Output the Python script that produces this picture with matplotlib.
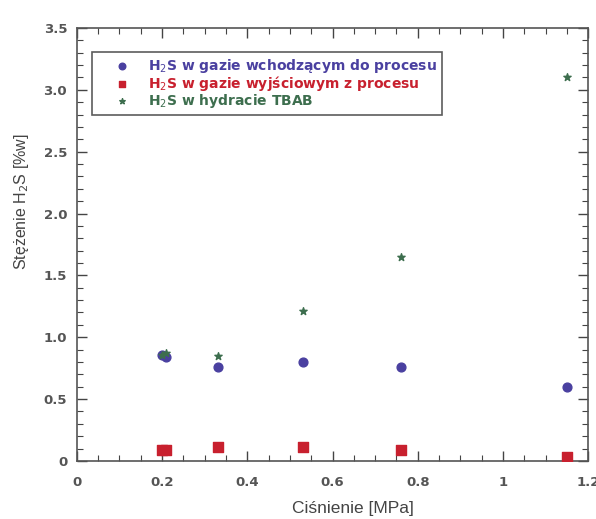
import matplotlib
matplotlib.use('Agg')
import matplotlib.pyplot as plt
from matplotlib.ticker import MultipleLocator, FixedFormatter, FixedLocator

plt.rcParams['font.family'] = ['Liberation Sans', 'DejaVu Sans']

# pressure [MPa]
pressure = [0.20, 0.21, 0.33, 0.53, 0.76, 1.15]

# H2S concentration [%w]
h2s_inlet = [0.86, 0.84, 0.76, 0.80, 0.76, 0.60]
h2s_outlet = [0.09, 0.09, 0.11, 0.11, 0.09, 0.03]
h2s_hydrate = [0.86, 0.87, 0.85, 1.21, 1.65, 3.10]

labels = ['H$_2$S w gazie wchodzącym do procesu',
          'H$_2$S w gazie wyjściowym z procesu',
          'H$_2$S w hydracie TBAB']
colors = ['#4a40a0', '#c8202e', '#3d6e4e']

x_ticks = [0, 0.2, 0.4, 0.6, 0.8, 1.0, 1.2]
x_ticklabels = ['0', '0.2', '0.4', '0.6', '0.8', '1', '1.2']
y_ticks = [0, 0.5, 1.0, 1.5, 2.0, 2.5, 3.0, 3.5]
y_ticklabels = ['0', '0.5', '1.0', '1.5', '2.0', '2.5', '3.0', '3.5']

fig = plt.figure(figsize=(5.96, 5.19), dpi=100)
ax = fig.add_axes([0.129, 0.112, 0.858, 0.834])

ax.scatter(pressure, h2s_inlet, marker='o', s=40, color=colors[0], label=labels[0], zorder=3)
ax.scatter(pressure, h2s_outlet, marker='s', s=44, color=colors[1], label=labels[1], zorder=3)
ax.scatter(pressure, h2s_hydrate, marker='*', s=30, color=colors[2], label=labels[2], zorder=4)

ax.set_xlim(0, 1.2)
ax.set_ylim(0, 3.5)
ax.xaxis.set_major_locator(FixedLocator(x_ticks))
ax.xaxis.set_major_formatter(FixedFormatter(x_ticklabels))
ax.yaxis.set_major_locator(FixedLocator(y_ticks))
ax.yaxis.set_major_formatter(FixedFormatter(y_ticklabels))
ax.xaxis.set_minor_locator(MultipleLocator(0.05))
ax.yaxis.set_minor_locator(MultipleLocator(0.1))
ax.tick_params(which='both', direction='in', top=True, right=True, color='#444444',
               labelcolor='#555555')
ax.tick_params(which='major', length=7, width=1.0)
ax.tick_params(which='minor', length=4, width=0.8)
ax.tick_params(axis='x', which='major', pad=11)
ax.tick_params(axis='y', which='major', pad=7)
for lab in ax.get_xticklabels() + ax.get_yticklabels():
    lab.set_family('DejaVu Sans')
    lab.set_fontweight('bold')
    lab.set_fontsize(9.5)
for sp in ax.spines.values():
    sp.set_color('#555555')
    sp.set_linewidth(1.2)

ax.set_xlabel('Ciśnienie [MPa]', fontsize=12.5, color='#444444')
ax.xaxis.set_label_coords(0.54, -0.092)
ax.set_ylabel('Stężenie H$_2$S [%w]', fontsize=11.5, color='#444444')
ax.yaxis.set_label_coords(-0.09, 0.60)

leg = ax.legend(loc='upper left', bbox_to_anchor=(0.03, 0.945),
                prop={'family': 'DejaVu Sans', 'weight': 'bold', 'size': 10},
                fancybox=False, frameon=True, borderpad=0.35, handletextpad=0.1,
                labelspacing=-0.06, borderaxespad=0, handlelength=3.6,
                markerscale=0.75)
leg.get_frame().set_edgecolor('#333333')
leg.get_frame().set_linewidth(1.2)
for txt, c in zip(leg.get_texts(), colors):
    txt.set_color(c)

fig.savefig('out.png', dpi=100)
